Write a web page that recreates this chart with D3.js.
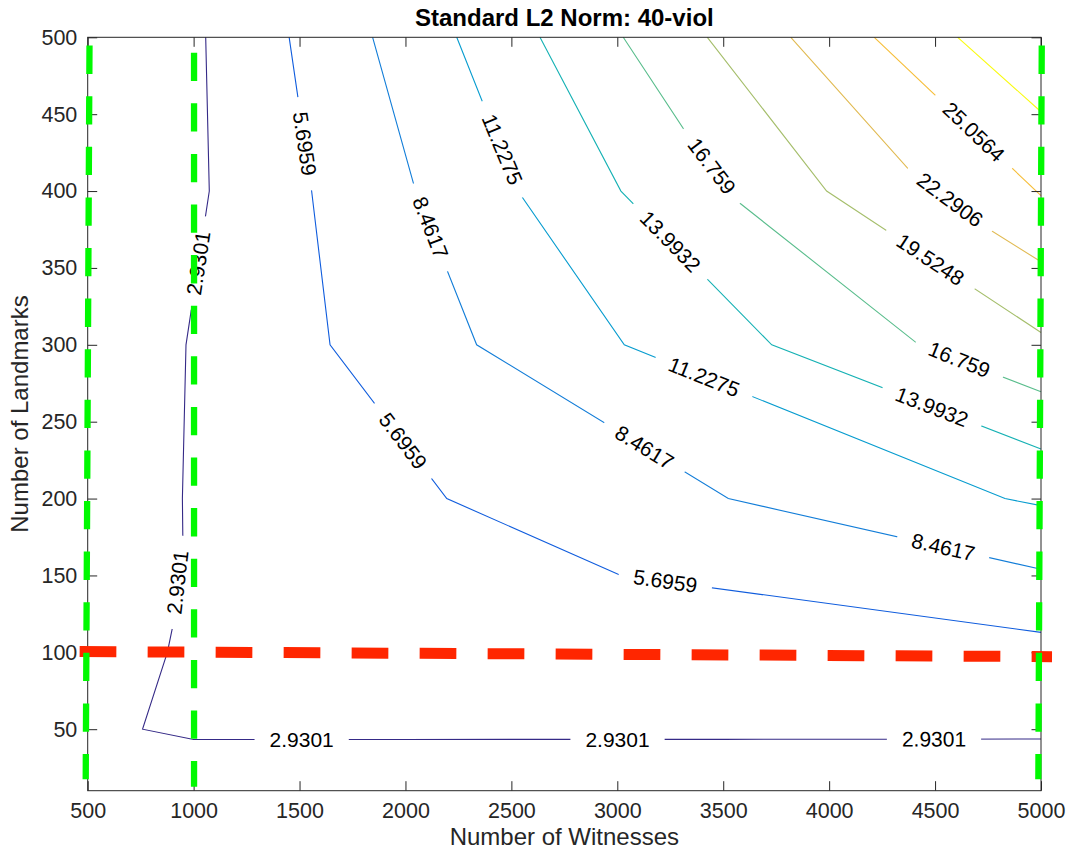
<!DOCTYPE html>
<html>
<head>
<meta charset="utf-8">
<script src="https://cdn.jsdelivr.net/npm/d3@7"></script>
<style>
  body { margin: 0; background: #fff; }
  text { font-family: "Liberation Sans", Arial, Helvetica, sans-serif; }
</style>
</head>
<body>
<div class="chart"></div>
<script>
var svgWidth = 1068;
var svgHeight = 852;

var margin = {
  top: 37.3,
  right: 27,
  bottom: 61.3,
  left: 87.7
};

var width = svgWidth - margin.left - margin.right;
var height = svgHeight - margin.top - margin.bottom;

// contour levels (parula colours, one per level)
var levels = [2.9301, 5.6959, 8.4617, 11.2275, 13.9932, 16.759, 19.5248, 22.2906, 25.0564, 27.8222];
var levelColors = ["#352a87", "#0f5cdd", "#127dd8", "#079ccf", "#15b1b4",
                   "#59bd8c", "#a5be6b", "#e1ba52", "#f6bd36", "#f9fb0e"];

// contour polylines, [witnesses, landmarks]
var contour0 = [[1057, 500], [1074, 400], [964, 300], [947, 200], [951, 150], [876, 100], [759, 50],
                [1000, 43.3], [1500, 43.3], [2000, 43.3], [2500, 43.4], [3000, 43.4], [3500, 43.4],
                [4000, 43.5], [4500, 43.5], [5000, 43.6]];
var contour1 = [[1451, 500], [1557, 400], [1644, 300], [2195, 200], [3017, 150], [5000, 113]];
var contour2 = [[1845, 500], [2048, 400], [2336, 300], [3524, 200], [5000, 154]];
var contour3 = [[2242, 500], [2531, 400], [3033, 300], [4830, 200], [5000, 195.4]];
var contour4 = [[2635, 500], [3017, 400], [3729, 300], [5000, 232.2]];
var contour5 = [[3028, 500], [3506, 400], [4424, 300], [5000, 269.5]];
var contour6 = [[3425, 500], [3988, 400], [5000, 308]];
var contour7 = [[3819, 500], [4467, 400], [5000, 354]];
var contour8 = [[4213, 500], [5000, 397]];
var contour9 = [[4607, 500], [5000, 451.6]];
var contours = [contour0, contour1, contour2, contour3, contour4, contour5, contour6, contour7, contour8, contour9];

// inline labels: [level index, witnesses, landmarks]
var labelSpots = [
  [0, 983, 354], [0, 917, 146], [0, 1510, 43.3], [0, 3001, 43.4], [0, 4495, 43.5],
  [1, 1535, 431], [1, 1965, 235], [1, 3226, 146],
  [2, 2130, 377], [2, 3131, 234], [2, 4538, 168],
  [3, 2456, 427], [3, 3409, 279],
  [4, 3249, 367], [4, 4486, 260],
  [5, 3447, 416], [5, 4613, 290],
  [6, 4476, 355],
  [7, 4570, 395],
  [8, 4679, 438]
];

// dashed guide lines: [[x1, y1], [x2, y2]]
var redGuide = [[462, 100.5], [5052, 97.2]];
var greenGuides = [
  [[508.5, 494.6], [490.6, 17.4]],
  [[1002, 490], [1002, 12.6]],
  [[5003.6, 494.6], [4987.5, 17.4]]
];

var xTickValues = [500, 1000, 1500, 2000, 2500, 3000, 3500, 4000, 4500, 5000];
var yTickValues = [50, 100, 150, 200, 250, 300, 350, 400, 450, 500];

var svg = d3.select(".chart")
  .append("svg")
  .attr("width", svgWidth)
  .attr("height", svgHeight);

var chartGroup = svg.append("g")
  .attr("transform", `translate(${margin.left}, ${margin.top})`);

var xLinearScale = d3.scaleLinear().domain([500, 5000]).range([0, width]);
var yLinearScale = d3.scaleLinear().domain([10, 500]).range([height, 0]);

var line = d3.line()
  .x(d => xLinearScale(d[0]))
  .y(d => yLinearScale(d[1]));

// contour lines
chartGroup.selectAll(".contour")
  .data(contours)
  .enter()
  .append("path")
  .attr("class", "contour")
  .attr("d", line)
  .attr("fill", "none")
  .attr("stroke", (d, i) => levelColors[i])
  .attr("stroke-width", 1.1);

// point at arc length s along a pixel polyline
function pointAt(pts, cum, s) {
  s = Math.max(0, Math.min(cum[cum.length - 1], s));
  for (var i = 1; i < pts.length; i++) {
    if (s <= cum[i]) {
      var t = (s - cum[i - 1]) / (cum[i] - cum[i - 1] || 1);
      return [pts[i - 1][0] + t * (pts[i][0] - pts[i - 1][0]), pts[i - 1][1] + t * (pts[i][1] - pts[i - 1][1])];
    }
  }
  return pts[pts.length - 1];
}

var labelGroup = chartGroup.append("g");
labelSpots.forEach(function (spot) {
  var pts = contours[spot[0]].map(d => [xLinearScale(d[0]), yLinearScale(d[1])]);
  var cum = [0];
  for (var i = 1; i < pts.length; i++) {
    cum.push(cum[i - 1] + Math.hypot(pts[i][0] - pts[i - 1][0], pts[i][1] - pts[i - 1][1]));
  }
  var px = xLinearScale(spot[1]), py = yLinearScale(spot[2]);
  var best = { d: Infinity, s: 0 };
  for (var j = 1; j < pts.length; j++) {
    var ax = pts[j - 1][0], ay = pts[j - 1][1], bx = pts[j][0], by = pts[j][1];
    var len2 = (bx - ax) * (bx - ax) + (by - ay) * (by - ay);
    var t = Math.max(0, Math.min(1, ((px - ax) * (bx - ax) + (py - ay) * (by - ay)) / (len2 || 1)));
    var qx = ax + t * (bx - ax), qy = ay + t * (by - ay);
    var dist = Math.hypot(px - qx, py - qy);
    if (dist < best.d) best = { d: dist, s: cum[j - 1] + t * Math.sqrt(len2) };
  }

  var g = labelGroup.append("g");
  var rect = g.append("rect").attr("fill", "#fff");
  var txt = g.append("text")
    .attr("text-anchor", "middle")
    .attr("dy", "0.35em")
    .style("font-size", "21px")
    .attr("fill", "#000")
    .text(levels[spot[0]]);
  var tw = txt.node().getComputedTextLength();
  var half = tw / 2 + 15;
  var a = pointAt(pts, cum, best.s - half), b = pointAt(pts, cum, best.s + half);
  var ang = Math.atan2(b[1] - a[1], b[0] - a[0]) * 180 / Math.PI;
  if (ang > 90) ang -= 180;
  if (ang < -90) ang += 180;
  var gap = Math.hypot(b[0] - a[0], b[1] - a[1]);
  rect.attr("x", -gap / 2).attr("y", -11).attr("width", gap).attr("height", 22);
  g.attr("transform", `translate(${(a[0] + b[0]) / 2}, ${(a[1] + b[1]) / 2}) rotate(${ang})`);
});

// axes (ticks inward on all four sides)
var bottomAxis = d3.axisBottom(xLinearScale).tickValues(xTickValues).tickFormat(d3.format("d"))
  .tickSizeInner(-9.5).tickSizeOuter(0).tickPadding(12.3);
var leftAxis = d3.axisLeft(yLinearScale).tickValues(yTickValues).tickFormat(d3.format("d"))
  .tickSizeInner(-9.5).tickSizeOuter(0).tickPadding(10.4);
var topAxis = d3.axisTop(xLinearScale).tickValues(xTickValues).tickSizeInner(-9.5).tickSizeOuter(0).tickFormat("");
var rightAxis = d3.axisRight(yLinearScale).tickValues(yTickValues).tickSizeInner(-9.5).tickSizeOuter(0).tickFormat("");

function styleAxis(g) {
  g.select(".domain").remove();
  g.selectAll("line").attr("stroke", "#262626");
  g.selectAll("text").attr("fill", "#262626").style("font-size", "21.5px").style("font-family", "Liberation Sans, Arial, sans-serif");
}

chartGroup.append("g").attr("transform", `translate(0, ${height})`).call(bottomAxis).call(styleAxis);
chartGroup.append("g").call(leftAxis).call(styleAxis);
chartGroup.append("g").call(topAxis).call(styleAxis);
chartGroup.append("g").attr("transform", `translate(${width}, 0)`).call(rightAxis).call(styleAxis);

chartGroup.append("rect")
  .attr("width", width)
  .attr("height", height)
  .attr("fill", "none")
  .attr("stroke", "#262626")
  .attr("stroke-width", 1);

// guide lines
chartGroup.append("path")
  .attr("d", line(redGuide))
  .attr("stroke", "#ff2600")
  .attr("stroke-width", 11)
  .attr("stroke-dasharray", "36.7 31.3")
  .attr("fill", "none");

chartGroup.selectAll(".green")
  .data(greenGuides)
  .enter()
  .append("path")
  .attr("class", "green")
  .attr("d", line)
  .attr("stroke", "#00f900")
  .attr("stroke-width", 6.3)
  .attr("stroke-dasharray", "28.3 22.3")
  .attr("fill", "none");

// titles
chartGroup.append("text")
  .attr("x", width / 2)
  .attr("y", -11.8)
  .attr("text-anchor", "middle")
  .style("font-size", "24px")
  .style("font-weight", "bold")
  .attr("fill", "#000")
  .text("Standard L2 Norm: 40-viol");

chartGroup.append("text")
  .attr("transform", `translate(${width / 2}, ${height + 54.3})`)
  .attr("text-anchor", "middle")
  .style("font-size", "24px")
  .attr("fill", "#262626")
  .text("Number of Witnesses");

chartGroup.append("text")
  .attr("transform", `translate(${28.3 - margin.left}, ${height / 2}) rotate(-90)`)
  .attr("text-anchor", "middle")
  .style("font-size", "24px")
  .attr("fill", "#262626")
  .text("Number of Landmarks");
</script>
</body>
</html>
